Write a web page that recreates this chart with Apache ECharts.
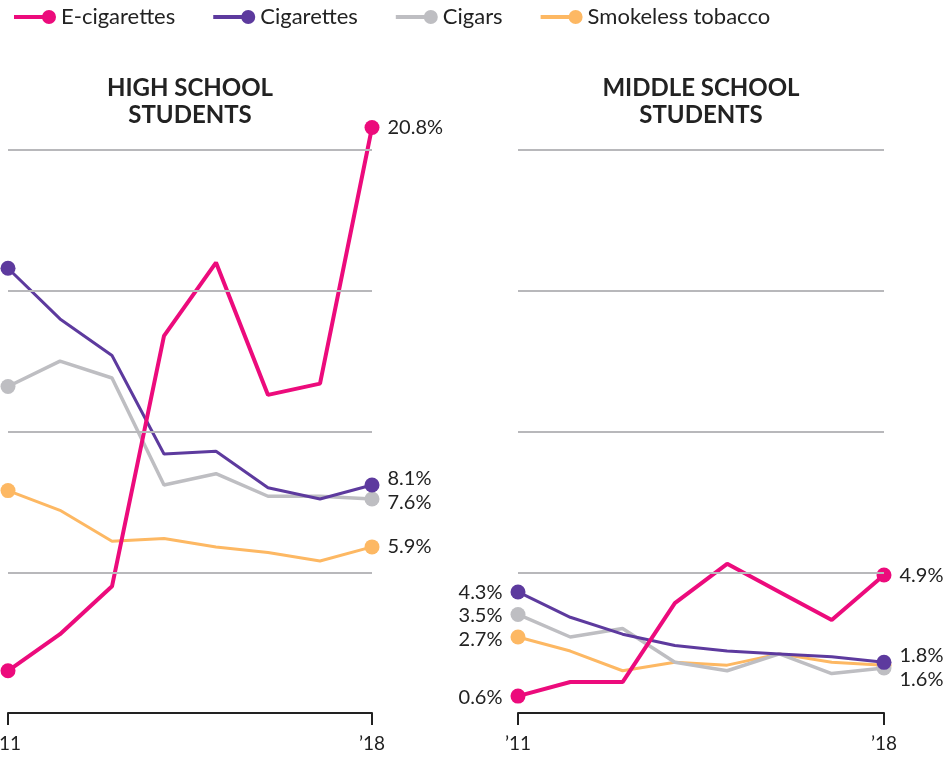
<!DOCTYPE html>
<html>
<head>
<meta charset="utf-8">
<script src="https://cdn.jsdelivr.net/npm/echarts@6/dist/echarts.min.js"></script>
<style>html,body{margin:0;padding:0;background:#fff}#c{width:945px;height:759px}</style>
</head>
<body>
<div id="c"></div>
<script>
// ---- data ----
const years = ['2011','2012','2013','2014','2015','2016','2017','2018'];
const seriesNames = ['E-cigarettes','Cigarettes','Cigars','Smokeless tobacco'];
const hsEcig      = [1.5, 2.8, 4.5, 13.4, 16.0, 11.3, 11.7, 20.8];
const hsCigarette = [15.8, 14.0, 12.7, 9.2, 9.3, 8.0, 7.6, 8.1];
const hsCigar     = [11.6, 12.5, 11.9, 8.1, 8.5, 7.7, 7.7, 7.6];
const hsSmokeless = [7.9, 7.2, 6.1, 6.2, 5.9, 5.7, 5.4, 5.9];
const msEcig      = [0.6, 1.1, 1.1, 3.9, 5.3, 4.3, 3.3, 4.9];
const msCigarette = [4.3, 3.4, 2.8, 2.4, 2.2, 2.1, 2.0, 1.8];
const msCigar     = [3.5, 2.7, 3.0, 1.8, 1.5, 2.1, 1.4, 1.6];
const msSmokeless = [2.7, 2.2, 1.5, 1.8, 1.7, 2.1, 1.8, 1.7];
const gridValues  = [5, 10, 15, 20];
const panelTitles = ['HIGH SCHOOL\nSTUDENTS', 'MIDDLE SCHOOL\nSTUDENTS'];

const colors = {
  'E-cigarettes': '#EC0B7C',
  'Cigarettes': '#5D3A9E',
  'Cigars': '#BEBEC2',
  'Smokeless tobacco': '#FDB863'
};
const widths = {'E-cigarettes':4,'Cigarettes':3,'Cigars':3.5,'Smokeless tobacco':3};
const FONT = 'Lato';
const TXT = '#222';

function fmt(v){ return v.toFixed(1) + '%'; }

// labels: {index: [position, dy]}
function buildData(vals, labels){
  return vals.map((v,i)=>{
    const cfg = labels[i];
    if (!cfg) return v;
    return {value: v, label: {show: true, position: cfg[0], distance: 8,
      offset: [0, cfg[1]], formatter: fmt(v), color: TXT, fontSize: 20, fontFamily: FONT}};
  });
}

function makeSeries(name, vals, gi, labels, markLines){
  const last = vals.length - 1;
  const s = {
    name, type: 'line', xAxisIndex: gi, yAxisIndex: gi,
    data: buildData(vals, labels),
    color: colors[name],
    lineStyle: {width: widths[name], color: colors[name]},
    symbol: 'circle',
    symbolSize: (v, p) => (p.dataIndex === 0 || p.dataIndex === last) ? 15 : 0,
    showAllSymbol: true,
    itemStyle: {color: colors[name]},
    clip: false, silent: true, animation: false
  };
  if (markLines) {
    s.markLine = {
      silent: true, symbol: 'none', label: {show: false},
      lineStyle: {color: '#b8b8bb', width: 2, type: 'solid'},
      data: gridValues.map(g => ({yAxis: g}))
    };
  }
  return s;
}

const series = [
  // high school (order: bottom to top)
  makeSeries('Smokeless tobacco', hsSmokeless, 0, {7:['right',0]}, true),
  makeSeries('Cigars', hsCigar, 0, {7:['right',3]}),
  makeSeries('Cigarettes', hsCigarette, 0, {7:['right',-6]}),
  makeSeries('E-cigarettes', hsEcig, 0, {7:['right',0]}),
  // middle school
  makeSeries('Smokeless tobacco', msSmokeless, 1, {0:['left',3]}, true),
  makeSeries('Cigars', msCigar, 1, {0:['left',1], 7:['right',12]}),
  makeSeries('Cigarettes', msCigarette, 1, {0:['left',1], 7:['right',-7]}),
  makeSeries('E-cigarettes', msEcig, 1, {0:['left',1], 7:['right',0]})
];

const legendIcon = 'path://M0,5H34V9H0Z M28,7A7,7 0 1,1 42,7A7,7 0 1,1 28,7Z';

function xAxisCfg(gi){
  return {
    type: 'category', gridIndex: gi, data: years, boundaryGap: false, offset: 3,
    axisLine: {show: true, lineStyle: {color: TXT, width: 2}},
    axisTick: {show: true, length: 12, lineStyle: {color: TXT, width: 2},
      interval: (i) => i === 0 || i === years.length - 1},
    axisLabel: {interval: (i) => i === 0 || i === years.length - 1,
      formatter: (v) => '\u2019' + v.slice(2), color: TXT, fontSize: 19, fontFamily: FONT, margin: 18},
    splitLine: {show: false}
  };
}
function yAxisCfg(gi){
  return {type: 'value', gridIndex: gi, min: 0, max: 20, interval: 5,
    axisLine: {show: false}, axisTick: {show: false}, axisLabel: {show: false},
    splitLine: {show: false}};
}

const option = {
  backgroundColor: '#fff',
  animation: false,
  textStyle: {fontFamily: FONT},
  legend: {
    top: 1, left: 9, itemWidth: 42, itemHeight: 14, itemGap: 38,
    selectedMode: false,
    textStyle: {color: TXT, fontSize: 22, fontFamily: FONT},
    data: seriesNames.map(n => ({name: n, icon: legendIcon, itemStyle: {color: colors[n]}}))
  },
  grid: [
    {left: 8, right: 573, top: 150, bottom: 46, containLabel: false, outerBoundsMode: 'none'},
    {left: 518, right: 61, top: 150, bottom: 46, containLabel: false, outerBoundsMode: 'none'}
  ],
  xAxis: [xAxisCfg(0), xAxisCfg(1)],
  yAxis: [yAxisCfg(0), yAxisCfg(1)],
  graphic: [
    {type: 'text', x: 190, y: 75, style: {text: panelTitles[0], textAlign: 'center',
      font: 'bold 24px ' + FONT, fill: TXT, lineHeight: 27}},
    {type: 'text', x: 701, y: 75, style: {text: panelTitles[1], textAlign: 'center',
      font: 'bold 24px ' + FONT, fill: TXT, lineHeight: 27}}
  ],
  series
};

const chart = echarts.init(document.getElementById('c'), null, {renderer: 'canvas'});
chart.setOption(option);
</script>
</body>
</html>
